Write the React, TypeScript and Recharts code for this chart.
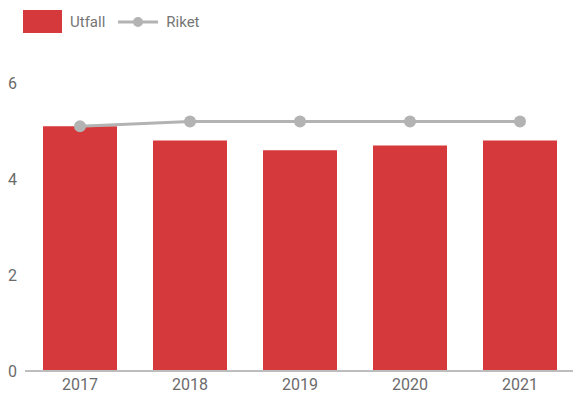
import React from 'react';
import { ComposedChart, Bar, Line, XAxis, YAxis } from 'recharts';

const years = ['2017', '2018', '2019', '2020', '2021'];
const utfall = [5.1, 4.8, 4.6, 4.7, 4.8];
const riket = [5.1, 5.2, 5.2, 5.2, 5.2];
const yTicks = [0, 2, 4, 6];

const data = years.map((year, i) => ({ year, utfall: utfall[i], riket: riket[i] }));

const RED = '#d6393b';
const GREY = '#b3b3b3';
const TEXT = '#6b6b6b';

const Legend = () => (
  <div
    style={{
      position: 'absolute',
      top: 10,
      left: 23,
      display: 'flex',
      alignItems: 'center',
      fontFamily: 'Roboto, sans-serif',
      fontSize: 15,
      color: '#757575',
    }}
  >
    <div style={{ width: 39, height: 23, background: RED }} />
    <span style={{ marginLeft: 8 }}>Utfall</span>
    <svg width={40} height={14} style={{ marginLeft: 13 }}>
      <line x1={0} y1={7} x2={40} y2={7} stroke={GREY} strokeWidth={3} />
      <circle cx={20} cy={7} r={5} fill={GREY} />
    </svg>
    <span style={{ marginLeft: 8 }}>Riket</span>
  </div>
);

export default function App() {
  return (
    <div style={{ position: 'absolute', left: 0, top: 0, width: 573, height: 394, overflow: 'hidden', background: '#fff' }}>
      <Legend />
      <ComposedChart
        width={575}
        height={394}
        data={data}
        margin={{ top: 83, right: 0, bottom: 0, left: 0 }}
        barCategoryGap={18}
      >
        <XAxis
          dataKey="year"
          height={23}
          tickLine={false}
          axisLine={{ stroke: '#bdbdbd', strokeWidth: 2 }}
          tick={{ fill: TEXT, fontSize: 16, fontFamily: 'Roboto, sans-serif' }}
        />
        <YAxis
          width={25}
          domain={[0, 6]}
          ticks={yTicks}
          axisLine={false}
          tickLine={false}
          tick={{ fill: TEXT, fontSize: 16, fontFamily: 'Roboto, sans-serif' }}
        />
        <Bar dataKey="utfall" fill={RED} isAnimationActive={false} />
        <Line
          dataKey="riket"
          stroke={GREY}
          strokeWidth={3}
          dot={{ r: 6, fill: GREY, stroke: GREY, strokeWidth: 0 }}
          isAnimationActive={false}
        />
      </ComposedChart>
    </div>
  );
}
